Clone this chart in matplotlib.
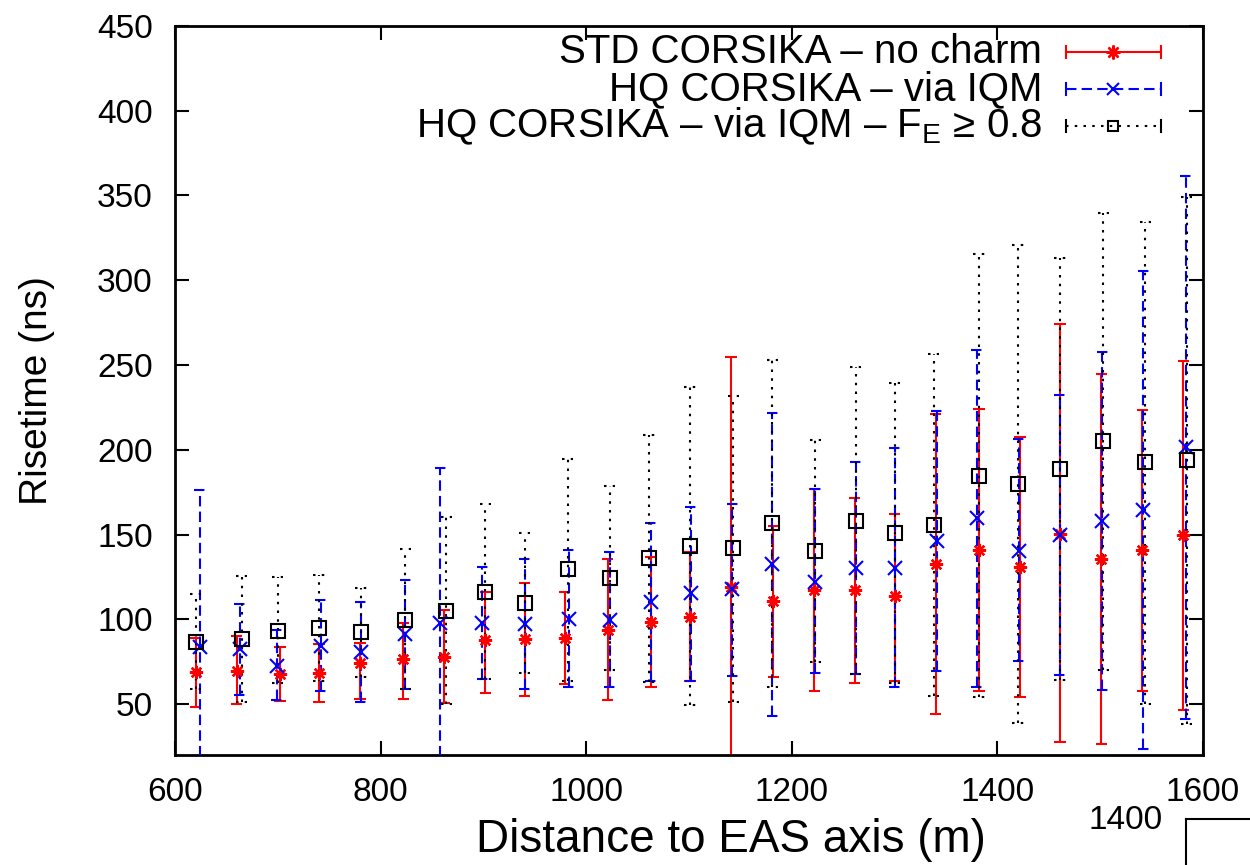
import numpy as np
import matplotlib
matplotlib.use("Agg")
import matplotlib.pyplot as plt
from matplotlib.lines import Line2D

plt.rcParams['font.family'] = ['Liberation Sans', 'DejaVu Sans']
plt.rcParams['mathtext.fontset'] = 'custom'
plt.rcParams['mathtext.rm'] = 'Liberation Sans'
plt.rcParams['mathtext.it'] = 'Liberation Sans'

# ---------------- data ----------------
labels = ["STD CORSIKA – no charm",
          "HQ CORSIKA – via IQM",
          r"HQ CORSIKA – via IQM – F$_\mathregular{E}$ ≥ 0.8"]

red_x = [620, 660, 702, 740, 780, 822, 862, 902, 940, 979, 1021, 1063, 1101,
         1141, 1182, 1222, 1261, 1300, 1340, 1382, 1422, 1461, 1501, 1541, 1581]
red_y = [68.7, 69.7, 67.7, 68.1, 74.3, 76.5, 77.9, 87.8, 88.2, 88.8, 93.7, 98.2,
         101.2, 118.9, 110.8, 117.3, 117.3, 113.7, 132.6, 140.9, 130.9, 150.4,
         135.7, 140.9, 149.7]
red_lo = [48.4, 49.8, 51.8, 51.2, 52.8, 52.8, 50.4, 56.3, 54.7, 61.6, 52.4, 59.9,
          63.6, 10.0, 66.1, 57.6, 62.6, 63.9, 44.2, 57.9, 54.4, 27.8, 26.6, 57.9,
          46.8]
red_hi = [88.8, 90.3, 83.8, 85.2, 86.0, 98.0, 105.5, 116.3, 121.6, 116.1, 135.4,
          136.9, 139.5, 254.5, 155.0, 176.8, 171.7, 162.3, 221.0, 223.9, 207.8,
          274.2, 244.8, 223.4, 252.4]

blue_x = [624, 663, 699, 742, 781, 824, 858, 899, 940, 983, 1023, 1063, 1102,
          1142, 1181, 1223, 1262, 1300, 1341, 1380, 1421, 1461, 1502, 1542, 1583]
blue_y = [83.8, 82.3, 72.6, 84.2, 80.9, 91.3, 98.0, 98.0, 97.2, 100.1, 99.6,
          110.0, 115.3, 117.7, 132.4, 122.2, 130.0, 130.2, 146.3, 159.9, 140.4,
          149.9, 158.2, 164.2, 201.4]
blue_lo = [10.0, 55.3, 52.4, 57.9, 51.0, 59.2, 10.0, 64.9, 58.7, 59.9, 59.9, 63.6,
           63.6, 66.7, 43.1, 68.1, 67.5, 60.3, 69.8, 59.8, 75.7, 66.9, 58.4, 23.5,
           41.3]
blue_hi = [176.3, 109.2, 93.7, 111.4, 110.4, 123.2, 189.0, 130.6, 135.7, 140.9,
           139.5, 156.6, 166.0, 168.0, 221.5, 176.8, 192.6, 200.9, 222.7, 259.0,
           206.1, 232.2, 257.8, 305.2, 361.4]

black_x = [620, 665, 700, 740, 781, 824, 864, 902, 940, 982, 1023, 1061, 1101,
           1143, 1181, 1223, 1262, 1300, 1338, 1382, 1420, 1461, 1503, 1544, 1584]
black_y = [86.4, 88.3, 93.3, 94.6, 92.3, 99.9, 104.9, 116.3, 109.4, 129.5, 124.5,
           136.4, 143.4, 141.8, 156.6, 140.5, 158.2, 151.1, 155.6, 184.8, 180.0,
           188.8, 204.9, 192.6, 193.8]
black_lo = [58.7, 51.4, 62.2, 63.6, 66.1, 59.2, 50.0, 64.9, 68.1, 63.8, 70.0, 63.0,
            49.4, 51.4, 59.9, 75.0, 67.5, 62.6, 54.8, 54.4, 39.0, 64.3, 70.3, 50.1,
            38.2]
black_hi = [114.7, 125.5, 124.7, 125.9, 118.6, 141.4, 160.1, 168.0, 150.7, 194.4,
            178.6, 208.9, 236.8, 231.9, 253.0, 205.8, 249.0, 239.3, 256.4, 315.7,
            320.6, 313.3, 339.4, 334.2, 349.1]

xticks = [600, 800, 1000, 1200, 1400, 1600]
yticks = [50, 100, 150, 200, 250, 300, 350, 400, 450]

# ---------------- figure ----------------
fig = plt.figure(figsize=(12.5, 8.65), dpi=100)
ax = fig.add_axes([0.140, 0.1272, 0.8224, 0.8428])
ax.set_xlim(600, 1600)
ax.set_ylim(20, 450)

series = [
    (red_x, red_y, red_lo, red_hi, '#ff0000', '-', (8, 2, 0), 1.7),
    (blue_x, blue_y, blue_lo, blue_hi, '#0000ff', (0, (5, 2.5)), 'x', 1.5),
    (black_x, black_y, black_lo, black_hi, '#000000', (0, (1.2, 3)), 's', 1.5),
]
cap_half = 5.5  # data units (m)
lw = 1.5
for z, (xs, ys, lo, hi, col, ls, mk, mew) in enumerate(series):
    xs = np.asarray(xs, float); ys = np.asarray(ys, float)
    lo = np.asarray(lo, float); hi = np.asarray(hi, float)
    ax.vlines(xs, lo, hi, colors=col, linestyles=ls, linewidth=lw, zorder=2 + z)
    ax.hlines(lo, xs - cap_half, xs + cap_half, colors=col, linestyles=ls,
              linewidth=lw, zorder=2 + z)
    ax.hlines(hi, xs - cap_half, xs + cap_half, colors=col, linestyles=ls,
              linewidth=lw, zorder=2 + z)
    ax.plot(xs, ys, linestyle='none', marker=mk, markersize=9.5,
            markeredgewidth=mew, markeredgecolor=col, markerfacecolor='none',
            zorder=5 + z)

ax.set_xticks(xticks)
ax.set_yticks(yticks)
ax.tick_params(axis='both', which='major', direction='in', length=10, width=1.5,
               labelsize=24, top=True, right=True, pad=16)
for sp in ax.spines.values():
    sp.set_linewidth(2)

ax.set_xlabel("Distance to EAS axis (m)", fontsize=33)
ax.xaxis.set_label_coords(0.541, -0.086)
ax.set_ylabel("Risetime (ns)", fontsize=28)
ax.yaxis.set_label_coords(-0.117, 0.50)

# legend drawn gnuplot-style: right-aligned text, horizontal sample with end caps
leg_text_x = 0.8434
leg_s0, leg_s1 = 0.8667, 0.9591
leg_rows = [0.9643, 0.9136, 0.8628]
leg_marker_size = [10, 9, 7]
for i, (xs, ys, lo, hi, col, ls, mk, mew) in enumerate(series):
    yr = leg_rows[i]
    ax.text(leg_text_x, yr, labels[i], transform=ax.transAxes, ha='right',
            va='center', fontsize=29)
    ax.add_line(Line2D([leg_s0, leg_s1], [yr, yr], transform=ax.transAxes,
                       color=col, linestyle=ls, linewidth=lw))
    for xe in (leg_s0, leg_s1):
        ax.add_line(Line2D([xe, xe], [yr - 0.0085, yr + 0.0085],
                           transform=ax.transAxes, color=col, linewidth=lw))
    ax.add_line(Line2D([(leg_s0 + leg_s1) / 2], [yr], transform=ax.transAxes,
                       linestyle='none', marker=mk, markersize=leg_marker_size[i],
                       markeredgewidth=mew, markeredgecolor=col,
                       markerfacecolor='none'))

# stray fragment of an overlapping frame at the bottom right
fig.text(0.9008, 0.052, "1400", fontsize=24, ha='center', va='center')
fig.add_artist(Line2D([0.9488, 1.0], [0.0532, 0.0532], transform=fig.transFigure,
                      color='black', linewidth=1.5))
fig.add_artist(Line2D([0.9488, 0.9488], [0.0532, 0.0], transform=fig.transFigure,
                      color='black', linewidth=1.5))

fig.savefig("out.png", dpi=100)
